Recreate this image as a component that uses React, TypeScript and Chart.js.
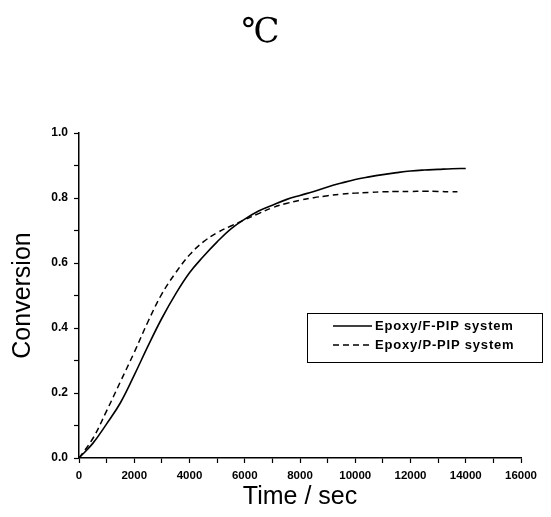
import React, { useEffect, useRef } from "react";
import { Chart, registerables } from "chart.js";

Chart.register(...registerables);

const titleText = "℃";
const xTitle = "Time / sec";
const yTitle = "Conversion";

const seriesNames = ["Epoxy/F-PIP system", "Epoxy/P-PIP system"];

const timeF = [0, 500, 1000, 1500, 2000, 2500, 3000, 3500, 4000, 4500, 5000, 5500, 6000, 6500, 7000, 7500, 8000, 8500, 9000, 9500, 10000, 10500, 11000, 11500, 12000, 12500, 13000, 13500, 14000];
const convF = [0, 0.045, 0.105, 0.17, 0.255, 0.345, 0.43, 0.505, 0.57, 0.62, 0.665, 0.705, 0.735, 0.76, 0.778, 0.795, 0.808, 0.82, 0.834, 0.846, 0.857, 0.865, 0.872, 0.878, 0.883, 0.886, 0.888, 0.89, 0.891];

const timeP = [0, 500, 1000, 1500, 2000, 2500, 3000, 3500, 4000, 4500, 5000, 5500, 6000, 6500, 7000, 7500, 8000, 8500, 9000, 9500, 10000, 10500, 11000, 11500, 12000, 12500, 13000, 13500, 13700];
const convP = [0, 0.06, 0.145, 0.235, 0.325, 0.42, 0.505, 0.57, 0.625, 0.665, 0.693, 0.714, 0.733, 0.752, 0.77, 0.783, 0.793, 0.801, 0.807, 0.812, 0.815, 0.817, 0.819, 0.82, 0.82, 0.821, 0.82, 0.819, 0.819];

const xMin = 0;
const xMax = 16000;
const xStep = 1000;
const xLabelStep = 2000;
const yMin = 0;
const yMax = 1.0;
const yStep = 0.1;
const yLabelStep = 0.2;

const FONT = '"Liberation Sans", Arial, sans-serif';

const legendPlugin = {
  id: "boxLegend",
  afterDraw(chart: any) {
    const { ctx, chartArea } = chart;
    const left = chartArea.left + 228;
    const top = chartArea.top + 180;
    const w = 235;
    const h = 49;
    ctx.save();
    ctx.strokeStyle = "#000";
    ctx.lineWidth = 1;
    ctx.strokeRect(left + 0.5, top + 0.5, w, h);
    ctx.font = `bold 13px ${FONT}`;
    try {
      (ctx as any).letterSpacing = "0.8px";
    } catch (e) {}
    ctx.textBaseline = "middle";
    ctx.fillStyle = "#000";
    chart.data.datasets.forEach((ds: any, i: number) => {
      const y = top + 13 + i * 19;
      ctx.beginPath();
      ctx.setLineDash(ds.borderDash || []);
      ctx.lineWidth = 1.3;
      ctx.moveTo(left + 26, y);
      ctx.lineTo(left + 65, y);
      ctx.stroke();
      ctx.setLineDash([]);
      ctx.fillText(ds.label, left + 68, y);
    });
    ctx.restore();
  },
};

export default function App() {
  const ref = useRef<HTMLCanvasElement>(null);
  useEffect(() => {
    if (!ref.current) return;
    const chart = new Chart(ref.current, {
      type: "line",
      data: {
        datasets: [
          {
            label: seriesNames[0],
            data: timeF.map((t, i) => ({ x: t, y: convF[i] })),
            borderColor: "#000",
            borderWidth: 1.6,
            pointRadius: 0,
            tension: 0.4,
            fill: false,
          },
          {
            label: seriesNames[1],
            data: timeP.map((t, i) => ({ x: t, y: convP[i] })),
            borderColor: "#000",
            borderWidth: 1.5,
            borderDash: [6, 4],
            pointRadius: 0,
            tension: 0.4,
            fill: false,
          },
        ],
      },
      options: {
        animation: false,
        responsive: false,
        layout: { padding: { left: 0, right: 30, top: 0, bottom: 0 } },
        plugins: {
          legend: { display: false },
          tooltip: { enabled: false },
          title: {
            display: true,
            text: titleText,
            color: "#000",
            font: { family: '"Liberation Serif", "DejaVu Serif", serif', size: 34, weight: "normal", lineHeight: 1 },
            padding: { top: 16, bottom: 83 },
          },
        },
        scales: {
          x: {
            type: "linear",
            min: xMin,
            max: xMax,
            afterFit: (s: any) => {
              s.height = 59;
            },
            border: { display: true, color: "#000", width: 1.5 },
            grid: { drawOnChartArea: false, drawTicks: true, tickLength: 5, tickColor: "#000", tickWidth: 1.2 },
            ticks: {
              stepSize: xStep,
              autoSkip: false,
              maxRotation: 0,
              color: "#000",
              padding: 6,
              font: { family: FONT, size: 11.5, weight: "bold" },
              callback: (v: any) => (Math.round(v) % xLabelStep === 0 ? String(v) : ""),
            },
            title: {
              display: true,
              text: xTitle,
              color: "#000",
              font: { family: FONT, size: 25, lineHeight: 1.2 },
              padding: { top: 0, bottom: 5 },
            },
          },
          y: {
            type: "linear",
            min: yMin,
            max: yMax,
            afterFit: (s: any) => {
              s.width = 79;
            },
            border: { display: true, color: "#000", width: 1.5 },
            grid: { drawOnChartArea: false, drawTicks: true, tickLength: 5, tickColor: "#000", tickWidth: 1.2 },
            ticks: {
              stepSize: yStep,
              autoSkip: false,
              color: "#000",
              padding: 6,
              font: { family: FONT, size: 12, weight: "bold" },
              callback: (v: any) => {
                const r = Math.round(v * 10);
                return r % Math.round(yLabelStep * 10) === 0 ? (r / 10).toFixed(1) : "";
              },
            },
            title: {
              display: true,
              text: yTitle,
              color: "#000",
              font: { family: FONT, size: 25, lineHeight: 1.2 },
              padding: { top: 8, bottom: 0 },
            },
          },
        },
      } as any,
      plugins: [legendPlugin],
    });
    return () => chart.destroy();
  }, []);
  return (
    <div style={{ position: "fixed", left: 0, top: 0, width: 551, height: 517, background: "#fff" }}>
      <canvas ref={ref} width={551} height={517} />
    </div>
  );
}
